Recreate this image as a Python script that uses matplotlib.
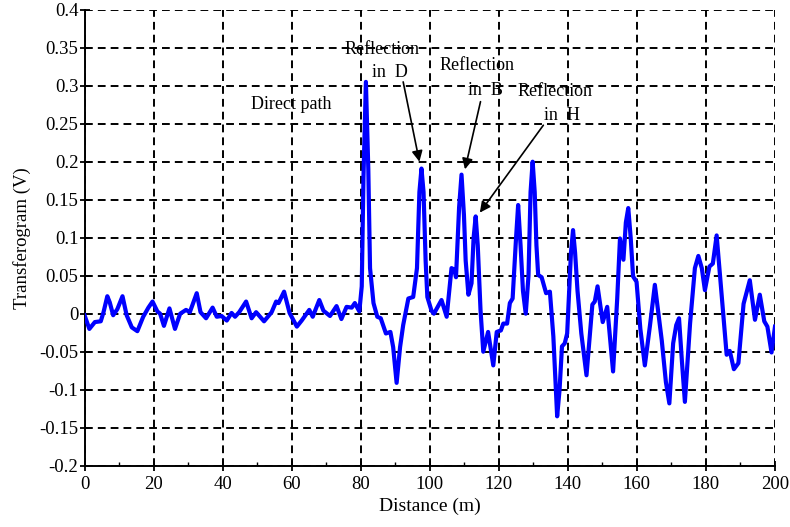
import matplotlib
matplotlib.use("Agg")
import matplotlib.pyplot as plt
from matplotlib.ticker import FixedLocator, FixedFormatter, MultipleLocator

plt.rcParams["font.family"] = ["Liberation Serif", "DejaVu Serif"]

# values
distance = [
    0.0, 1.4, 3.0, 4.7, 5.5, 6.6, 7.3, 8.3, 9.5, 11.0, 12.2, 13.7, 15.3, 17.0,
    18.5, 19.7, 21.1, 21.9, 23.0, 24.6, 26.2, 27.7, 29.4, 30.5, 32.5, 33.6,
    35.2, 37.1, 38.3, 39.7, 41.2, 42.6, 43.6, 44.8, 46.8, 48.4, 49.7, 52.0,
    54.2, 55.5, 56.2, 57.8, 59.4, 61.5, 62.9, 65.1, 66.1, 68.0, 69.2, 71.1,
    73.0, 74.4, 75.9, 77.4, 78.3, 79.6, 80.3, 80.8, 81.5, 82.2, 82.7, 83.7,
    84.8, 85.8, 87.3, 88.6, 89.4, 90.4, 91.4, 92.3, 93.8, 95.2, 96.3, 97.0,
    97.6, 98.2, 98.8, 99.3, 100.5, 101.2, 103.4, 104.9, 106.3, 107.1, 107.6,
    108.5, 109.2, 109.9, 110.4, 111.2, 112.1, 112.7, 113.3, 113.9, 114.7,
    115.5, 116.9, 118.4, 119.4, 120.6, 121.3, 122.4, 123.2, 124.0, 125.0,
    125.6, 126.3, 127.0, 127.8, 128.6, 129.2, 129.8, 130.4, 130.9, 131.4,
    132.4, 133.7, 134.8, 135.8, 136.9, 137.6, 138.3, 139.1, 139.8, 140.9,
    141.5, 142.1, 142.8, 143.9, 145.4, 146.4, 147.1, 147.8, 148.6, 150.1,
    151.4, 153.1, 154.3, 155.1, 156.1, 156.8, 157.5, 158.2, 158.9, 159.9,
    161.0, 162.3, 163.8, 165.2, 167.2, 168.4, 169.4, 170.5, 171.4, 172.2,
    173.0, 173.9, 175.4, 176.8, 177.8, 178.8, 179.7, 181.0, 182.0, 183.1,
    184.2, 186.0, 186.9, 188.1, 189.4, 190.9, 192.7, 194.2, 195.6, 196.9,
    197.8, 199.0, 200.0,
]
voltage = [
    -0.002, -0.020, -0.011, -0.010, 0.002, 0.023, 0.015, -0.002, 0.006, 0.023,
    -0.002, -0.018, -0.023, -0.004, 0.008, 0.016, 0.003, 0.000, -0.016, 0.007,
    -0.020, 0.000, 0.005, 0.002, 0.027, 0.002, -0.006, 0.008, -0.004, -0.003,
    -0.009, 0.001, -0.004, 0.002, 0.016, -0.006, 0.002, -0.010, 0.002, 0.016,
    0.014, 0.029, 0.001, -0.017, -0.009, 0.005, -0.004, 0.018, 0.004, -0.003,
    0.010, -0.007, 0.009, 0.008, 0.014, 0.003, 0.036, 0.180, 0.305, 0.190,
    0.060, 0.014, -0.004, -0.006, -0.026, -0.024, -0.044, -0.091, -0.044,
    -0.015, 0.020, 0.022, 0.060, 0.160, 0.191, 0.160, 0.070, 0.022, 0.004,
    0.000, 0.018, -0.004, 0.060, 0.058, 0.048, 0.140, 0.183, 0.130, 0.070,
    0.025, 0.040, 0.100, 0.128, 0.090, 0.005, -0.050, -0.024, -0.068, -0.024,
    -0.022, -0.013, -0.013, 0.014, 0.020, 0.100, 0.143, 0.090, 0.030, 0.000,
    0.050, 0.160, 0.200, 0.160, 0.090, 0.051, 0.048, 0.027, 0.029, -0.030,
    -0.135, -0.100, -0.043, -0.039, -0.026, 0.080, 0.110, 0.080, 0.030,
    -0.026, -0.081, -0.026, 0.012, 0.016, 0.036, -0.011, 0.009, -0.076, 0.020,
    0.099, 0.071, 0.120, 0.139, 0.100, 0.049, 0.042, -0.020, -0.068, -0.015,
    0.038, -0.035, -0.090, -0.118, -0.039, -0.015, -0.006, -0.060, -0.116,
    -0.013, 0.060, 0.076, 0.060, 0.031, 0.062, 0.066, 0.103, 0.043, -0.054,
    -0.049, -0.073, -0.065, 0.013, 0.044, -0.008, 0.025, -0.010, -0.017,
    -0.051, -0.017,
]

x_ticks = [0, 20, 40, 60, 80, 100, 120, 140, 160, 180, 200]
y_ticks = [-0.2, -0.15, -0.1, -0.05, 0, 0.05, 0.1, 0.15, 0.2, 0.25, 0.3, 0.35, 0.4]
y_tick_labels = ["-0.2", "-0.15", "-0.1", "-0.05", "0", "0.05", "0.1", "0.15",
                 "0.2", "0.25", "0.3", "0.35", "0.4"]

# (label lines, line 1 pos, line 2 pos, arrow start, arrow tip)
reflections = [
    ("in  D", (86.3, 0.347), (88.5, 0.318), (92.3, 0.305), (97.0, 0.200)),
    ("in  B", (113.8, 0.327), (116.0, 0.294), (114.7, 0.279), (110.2, 0.190)),
    ("in  H", (136.3, 0.292), (138.3, 0.261), (132.9, 0.248), (114.5, 0.133)),
]

fig = plt.figure(figsize=(7.9, 5.27), dpi=100)
ax = fig.add_axes([0.107, 0.1163, 0.981 - 0.107, 0.9816 - 0.1163])

ax.plot(distance, voltage, color="#0000ff", lw=3.0, solid_joinstyle="round", zorder=3)

ax.set_xlim(0, 200)
ax.set_ylim(-0.2, 0.4)
ax.xaxis.set_major_locator(FixedLocator(x_ticks))
ax.xaxis.set_minor_locator(MultipleLocator(10))
ax.yaxis.set_major_locator(FixedLocator(y_ticks))
ax.yaxis.set_major_formatter(FixedFormatter(y_tick_labels))
ax.grid(True, which="major", color="black", lw=1.4, linestyle=(0, (4, 2.6)))
ax.set_axisbelow(True)

for side in ["top", "right"]:
    ax.spines[side].set_visible(False)
for side in ["left", "bottom"]:
    ax.spines[side].set_linewidth(1.4)

ax.tick_params(which="major", direction="inout", length=7, width=1.3, labelsize=13.5, pad=1)
ax.tick_params(which="minor", direction="in", length=3, width=1.0)
ax.tick_params(axis="x", pad=4)

ax.set_xlabel("Distance (m)", fontsize=14, labelpad=3)
ax.set_ylabel("Transferogram (V)", fontsize=13.5, labelpad=6)

ax.text(59.8, 0.275, "Direct path", fontsize=13, ha="center", va="center")
for second, p1, p2, start, tip in reflections:
    ax.text(p1[0], p1[1], "Reflection", fontsize=13, ha="center", va="center")
    ax.text(p2[0], p2[1], second, fontsize=13, ha="center", va="center")
    ax.annotate("", xy=tip, xytext=start,
                arrowprops=dict(arrowstyle="-|>", color="black", lw=1.2,
                                mutation_scale=16, shrinkA=0, shrinkB=0))

fig.savefig("out.png", dpi=100)
